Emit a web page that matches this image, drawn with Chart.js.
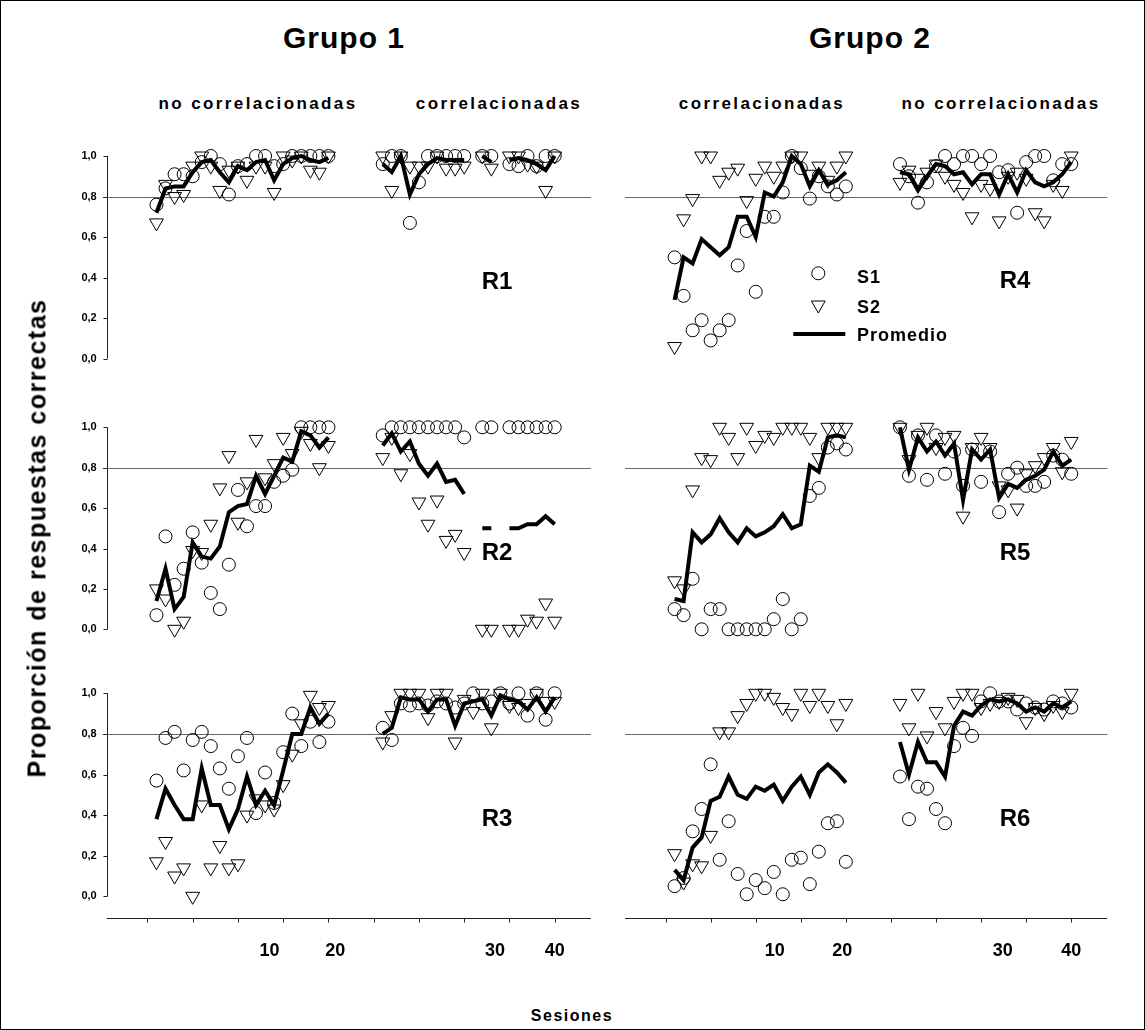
<!DOCTYPE html>
<html>
<head>
<meta charset="utf-8">
<script src="https://cdn.jsdelivr.net/npm/chart.js@4.4.1/dist/chart.umd.min.js"></script>
<style>
    html, body { margin: 0; padding: 0; background: #fff; }
    #fig { position: relative; width: 1145px; height: 1030px; overflow: hidden;
           font-family: "Liberation Sans", Arial, sans-serif; font-weight: bold; color: #000; }
    #frame { position: absolute; left: 0; top: 0; width: 1145px; height: 1030px;
             box-sizing: border-box; border: 1px solid #000; }
    #fig canvas { position: absolute; }
    .t { position: absolute; white-space: nowrap; line-height: 1; transform: translate(-50%, -50%); }
    .grp { font-size: 30px; letter-spacing: 1px; }
    .sub { font-size: 17px; letter-spacing: 2.4px; }
    .rl { font-size: 24px; }
    .lg { font-size: 18px; letter-spacing: 1px; transform: translate(0, -50%); }
    .ytitle { font-size: 25px; letter-spacing: 1.5px; transform: translate(-50%, -50%) rotate(-90deg); }
    .xtitle { font-size: 16px; letter-spacing: 1.5px; }
</style>
</head>
<body>
<div id="fig">
    <div id="frame"></div>

    <canvas id="r1" width="570" height="250" style="left:40px;top:130px"></canvas>
    <canvas id="r2" width="570" height="250" style="left:40px;top:400px"></canvas>
    <canvas id="r3" width="570" height="300" style="left:40px;top:665px"></canvas>
    <canvas id="r4" width="520" height="250" style="left:612px;top:130px"></canvas>
    <canvas id="r5" width="520" height="250" style="left:612px;top:400px"></canvas>
    <canvas id="r6" width="520" height="300" style="left:612px;top:665px"></canvas>

    <div class="t grp" style="left:344px;top:38px">Grupo 1</div>
    <div class="t grp" style="left:870px;top:38px">Grupo 2</div>
    <div class="t sub" style="left:258px;top:103px">no correlacionadas</div>
    <div class="t sub" style="left:499px;top:103px">correlacionadas</div>
    <div class="t sub" style="left:762px;top:103px">correlacionadas</div>
    <div class="t sub" style="left:1001px;top:103px">no correlacionadas</div>

    <div class="t rl" style="left:497px;top:281px">R1</div>
    <div class="t rl" style="left:497px;top:552px">R2</div>
    <div class="t rl" style="left:497px;top:818px">R3</div>
    <div class="t rl" style="left:1015px;top:280px">R4</div>
    <div class="t rl" style="left:1015px;top:552px">R5</div>
    <div class="t rl" style="left:1015px;top:818px">R6</div>

    <div class="t lg" style="left:857px;top:277px">S1</div>
    <div class="t lg" style="left:857px;top:307px">S2</div>
    <div class="t lg" style="left:857px;top:335px">Promedio</div>

    <div class="t ytitle" style="left:37px;top:538px">Proporción de respuestas correctas</div>
    <div class="t xtitle" style="left:572px;top:1016px">Sesiones</div>
</div>

<script>
(function () {
    "use strict";

    // sessions 1-20 = first phase, 21-40 = second phase
    const SESSIONS = [1, 2, 3, 4, 5, 6, 7, 8, 9, 10, 11, 12, 13, 14, 15, 16, 17, 18, 19, 20,
        21, 22, 23, 24, 25, 26, 27, 28, 29, 30, 31, 32, 33, 34, 35, 36, 37, 38, 39, 40];
    const Y_TICKS = [0, 0.2, 0.4, 0.6, 0.8, 1.0];
    const X_TICKS = [0, 5, 10, 15, 20, 25, 30, 35, 40, 45];
    const X_LABELS = ["10", "20", "30", "40"];
    const CRITERION = 0.8;

    // Grupo 1
    const R1_S1 = [0.76, 0.84, 0.91, 0.91, 0.90, 0.97, 1.00, 0.96, 0.81, 0.95, 0.96, 1.00, 1.00, 0.95, 0.96, 1.00, 1.00, 1.00, 1.00, 1.00,
        0.96, 1.00, 1.00, 0.67, 0.87, 1.00, 1.00, 1.00, 1.00, 1.00, null, 1.00, 1.00, null, 0.96, 0.95, 1.00, 0.95, 1.00, 1.00];
    const R1_S2 = [0.67, 0.86, 0.80, 0.81, 0.95, 1.00, 0.95, 0.83, 0.93, 0.95, 0.88, 0.95, 0.95, 0.82, 1.00, 0.98, 1.00, 0.93, 0.92, 1.00,
        1.00, 0.83, 1.00, 0.95, 0.95, 0.95, 1.00, 0.94, 0.94, 0.95, null, 1.00, 0.94, null, 1.00, 1.00, 0.96, 0.95, 0.83, 1.00];
    const R1_PROM = [0.72, 0.84, 0.85, 0.85, 0.92, 0.97, 0.98, 0.92, 0.87, 0.95, 0.93, 0.97, 0.98, 0.88, 0.96, 0.99, 1.00, 0.98, 0.97, 0.99,
        0.96, 0.92, 1.00, 0.81, 0.91, 0.96, 0.99, 0.98, 0.98, 0.98, null, 1.00, 0.97, null, 0.98, 0.99, 0.98, 0.96, 0.93, 1.00];

    const R2_S1 = [0.07, 0.46, 0.22, 0.30, 0.48, 0.33, 0.18, 0.10, 0.32, 0.69, 0.51, 0.61, 0.61, 0.73, 0.76, 0.79, 1.00, 1.00, 1.00, 1.00,
        0.96, 1.00, 1.00, 1.00, 1.00, 1.00, 1.00, 1.00, 1.00, 0.95, null, 1.00, 1.00, null, 1.00, 1.00, 1.00, 1.00, 1.00, 1.00];
    const R2_S2 = [0.20, 0.15, 0.00, 0.04, 0.39, 0.38, 0.52, 0.70, 0.86, 0.53, 0.73, 0.94, 0.75, 0.82, 0.95, 0.87, 0.98, 0.92, 0.80, 0.91,
        0.85, 0.95, 0.77, 0.87, 0.63, 0.52, 0.64, 0.44, 0.47, 0.38, null, 0.00, 0.00, null, 0.00, 0.00, 0.05, 0.04, 0.13, 0.04];
    const R2_PROM = [0.14, 0.30, 0.10, 0.16, 0.43, 0.36, 0.35, 0.41, 0.58, 0.61, 0.62, 0.76, 0.67, 0.76, 0.85, 0.83, 0.98, 0.96, 0.90, 0.95,
        0.91, 0.97, 0.88, 0.93, 0.82, 0.76, 0.82, 0.73, 0.74, 0.67, null, 0.50, 0.50, null, 0.50, 0.50, 0.52, 0.52, 0.56, 0.52];

    const R3_S1 = [0.57, 0.78, 0.81, 0.62, 0.77, 0.81, 0.74, 0.63, 0.53, 0.69, 0.78, 0.41, 0.61, 0.46, 0.71, 0.90, 0.74, 0.86, 0.76, 0.86,
        0.83, 0.77, 0.95, 0.94, 0.95, 0.94, 0.96, 0.95, 0.93, 0.95, 1.00, 0.95, 0.96, 1.00, 0.95, 1.00, 0.89, 1.00, 0.87, 1.00];
    const R3_S2 = [0.17, 0.27, 0.10, 0.14, 0.00, 0.45, 0.14, 0.25, 0.14, 0.16, 0.40, 0.48, 0.45, 0.43, 0.55, 0.70, 0.85, 0.99, 0.93, 0.94,
        0.76, 0.89, 1.00, 1.00, 1.00, 0.88, 1.00, 1.00, 0.76, 0.97, 0.91, 1.00, 0.83, 1.00, 0.94, 0.93, 0.95, 1.00, 0.96, 0.96];
    const R3_PROM = [0.38, 0.53, 0.45, 0.38, 0.38, 0.63, 0.45, 0.45, 0.33, 0.43, 0.59, 0.45, 0.52, 0.45, 0.62, 0.80, 0.80, 0.93, 0.85, 0.90,
        0.80, 0.83, 0.98, 0.97, 0.97, 0.91, 0.97, 0.97, 0.84, 0.95, 0.96, 0.97, 0.89, 0.99, 0.97, 0.96, 0.92, 0.98, 0.91, 0.98];

    // Grupo 2
    const R4_S1 = [0.50, 0.31, 0.14, 0.19, 0.09, 0.14, 0.19, 0.46, 0.63, 0.33, 0.70, 0.70, 0.82, 1.00, 0.94, 0.79, 0.90, 0.85, 0.81, 0.85,
        0.96, 0.90, 0.77, 0.87, 0.95, 1.00, 0.96, 1.00, 1.00, 0.96, 1.00, 0.92, 0.93, 0.72, 0.97, 1.00, 1.00, 0.88, 0.96, 0.96];
    const R4_S2 = [0.06, 0.69, 0.79, 1.00, 1.00, 0.88, 0.92, 0.94, 0.78, 0.89, 0.95, 0.90, 0.95, 1.00, 1.00, 0.91, 0.95, 0.88, 0.95, 1.00,
        0.87, 0.93, 0.89, 0.92, 0.96, 0.90, 0.86, 0.82, 0.70, 0.86, 0.84, 0.68, 0.90, 0.92, 0.89, 0.72, 0.68, 0.86, 0.83, 1.00];
    const R4_PROM = [0.29, 0.50, 0.47, 0.59, 0.55, 0.51, 0.55, 0.70, 0.70, 0.60, 0.82, 0.80, 0.87, 1.00, 0.96, 0.85, 0.93, 0.86, 0.88, 0.92,
        0.92, 0.91, 0.83, 0.90, 0.96, 0.95, 0.91, 0.92, 0.86, 0.91, 0.91, 0.81, 0.91, 0.82, 0.93, 0.87, 0.85, 0.87, 0.91, 0.97];

    const R5_S1 = [0.10, 0.07, 0.25, 0.00, 0.10, 0.10, 0.00, 0.00, 0.00, 0.00, 0.00, 0.05, 0.15, 0.00, 0.05, 0.66, 0.70, 0.90, 0.92, 0.89,
        1.00, 0.76, 0.96, 0.74, 0.96, 0.77, 0.88, 0.71, 0.89, 0.73, 0.88, 0.58, 0.77, 0.80, 0.71, 0.71, 0.73, 0.86, 0.84, 0.77];
    const R5_S2 = [0.24, 0.20, 0.69, 0.85, 0.84, 1.00, 0.95, 0.85, 1.00, 0.91, 0.96, 0.95, 1.00, 1.00, 1.00, 0.95, 0.85, 1.00, 1.00, 1.00,
        1.00, 0.84, 0.96, 1.00, 0.90, 0.95, 0.96, 0.56, 0.90, 0.95, 0.90, 0.71, 0.69, 0.60, 0.77, 0.81, 0.85, 0.90, 0.78, 0.93];
    const R5_PROM = [0.15, 0.14, 0.48, 0.43, 0.47, 0.55, 0.48, 0.43, 0.50, 0.46, 0.48, 0.51, 0.57, 0.50, 0.52, 0.81, 0.78, 0.95, 0.96, 0.95,
        1.00, 0.79, 0.95, 0.88, 0.93, 0.86, 0.92, 0.64, 0.89, 0.84, 0.89, 0.65, 0.72, 0.70, 0.74, 0.76, 0.79, 0.88, 0.81, 0.84];

    const R6_S1 = [0.05, 0.09, 0.32, 0.43, 0.65, 0.18, 0.37, 0.11, 0.01, 0.08, 0.04, 0.12, 0.01, 0.18, 0.19, 0.06, 0.22, 0.36, 0.37, 0.17,
        0.59, 0.38, 0.54, 0.53, 0.43, 0.36, 0.74, 0.83, 0.79, 0.96, 1.00, 0.96, 0.96, 0.92, 0.95, 0.93, 0.92, 0.96, 0.95, 0.93];
    const R6_S2 = [0.21, 0.07, 0.16, 0.15, 0.30, 0.81, 0.81, 0.89, 0.95, 1.00, 1.00, 0.98, 0.93, 0.90, 1.00, 0.94, 1.00, 0.94, 0.85, 0.95,
        0.95, 0.83, 1.00, 0.79, 0.91, 0.83, 0.96, 1.00, 1.00, 0.93, 0.95, 0.96, 0.98, 0.97, 0.86, 0.93, 0.90, 0.94, 0.91, 1.00];
    const R6_PROM = [0.13, 0.08, 0.24, 0.29, 0.47, 0.49, 0.59, 0.50, 0.48, 0.54, 0.52, 0.55, 0.47, 0.54, 0.59, 0.50, 0.61, 0.65, 0.61, 0.56,
        0.76, 0.60, 0.76, 0.66, 0.66, 0.59, 0.84, 0.91, 0.89, 0.94, 0.97, 0.96, 0.97, 0.95, 0.91, 0.93, 0.91, 0.95, 0.93, 0.96];

    // the second phase is drawn after an empty stretch of 5 sessions
    const PHASE_END = 20;
    const PHASE_GAP = 5;
    const FONT = '"Liberation Sans", Arial, sans-serif';

    function toPoints(values) {
        const pts = [];
        SESSIONS.forEach(function (s, i) {
            if (s === PHASE_END + 1) pts.push({ x: PHASE_END + PHASE_GAP / 2, y: null });
            pts.push({ x: s <= PHASE_END ? s : s + PHASE_GAP, y: values[i] });
        });
        return pts;
    }

    function downTriangle(ctx, x, y, r) {
        const h = r * Math.sin(Math.PI / 3);
        ctx.beginPath();
        ctx.moveTo(x, y + r);
        ctx.lineTo(x - h, y - r / 2);
        ctx.lineTo(x + h, y - r / 2);
        ctx.closePath();
        ctx.stroke();
    }

    const panelAxes = {
        id: "panelAxes",
        beforeDatasetsDraw(chart, args, opts) {
            const ctx = chart.ctx;
            const a = chart.chartArea;
            const x = chart.scales.x;
            const y = chart.scales.y;
            ctx.save();
            ctx.lineWidth = 1;

            // 0,8 criterion line
            const yc = Math.round(y.getPixelForValue(CRITERION)) + 0.5;
            ctx.strokeStyle = "#666";
            ctx.beginPath();
            ctx.moveTo(a.left - (opts.yAxis ? 4 : 0), yc);
            ctx.lineTo(a.right, yc);
            ctx.stroke();

            ctx.strokeStyle = "#222";
            ctx.fillStyle = "#000";
            if (opts.yAxis) {
                const xl = Math.round(a.left) + 0.5;
                ctx.beginPath();
                ctx.moveTo(xl, y.getPixelForValue(1));
                ctx.lineTo(xl, y.getPixelForValue(0));
                Y_TICKS.forEach(function (v) {
                    const py = Math.round(y.getPixelForValue(v)) + 0.5;
                    ctx.moveTo(xl - 4, py);
                    ctx.lineTo(xl, py);
                });
                ctx.stroke();
                ctx.font = "bold 11px " + FONT;
                ctx.textAlign = "right";
                ctx.textBaseline = "middle";
                Y_TICKS.forEach(function (v) {
                    ctx.fillText(v.toFixed(1).replace(".", ","), a.left - 10, y.getPixelForValue(v));
                });
            }
            if (opts.xAxis) {
                const yb = Math.round(y.getPixelForValue(opts.xAxisAt)) + 0.5;
                ctx.beginPath();
                ctx.moveTo(a.left, yb);
                ctx.lineTo(a.right, yb);
                X_TICKS.forEach(function (v) {
                    const px = Math.round(x.getPixelForValue(v)) + 0.5;
                    ctx.moveTo(px, yb);
                    ctx.lineTo(px, yb + 4);
                });
                ctx.stroke();
                ctx.font = "bold 18px " + FONT;
                ctx.textAlign = "center";
                ctx.textBaseline = "middle";
                X_LABELS.forEach(function (lab, i) {
                    ctx.fillText(lab, x.getPixelForValue(opts.labelAt[i]), yb + 33);
                });
            }
            ctx.restore();
        },
        afterDatasetsDraw(chart, args, opts) {
            if (!opts.legend) return;
            const ctx = chart.ctx;
            const L = opts.legend;
            ctx.save();
            ctx.strokeStyle = "#000";
            ctx.lineWidth = 1;
            ctx.beginPath();
            ctx.arc(L.x, L.y1, 6.5, 0, 2 * Math.PI);
            ctx.stroke();
            downTriangle(ctx, L.x, L.y2, 8);
            ctx.lineWidth = 4;
            ctx.beginPath();
            ctx.moveTo(L.x - 25, L.y3);
            ctx.lineTo(L.x + 27, L.y3);
            ctx.stroke();
            ctx.restore();
        }
    };

    function makePanel(id, s1, s2, prom, axes, pad) {
        const canvas = document.getElementById(id);
        new Chart(canvas.getContext("2d"), {
            type: "scatter",
            data: {
                datasets: [
                    {
                        type: "line",
                        label: "Promedio",
                        data: toPoints(prom),
                        borderColor: "#000",
                        borderWidth: 4,
                        borderJoinStyle: "miter",
                        pointRadius: 0,
                        tension: 0,
                        spanGaps: false,
                        clip: false,
                        order: 0,
                    },
                    {
                        label: "S2",
                        data: toPoints(s2),
                        pointStyle: "triangle",
                        rotation: 180,
                        pointRadius: 8,
                        borderColor: "#000",
                        backgroundColor: "rgba(0,0,0,0)",
                        borderWidth: 1,
                        clip: false,
                        order: 1,
                    },
                    {
                        label: "S1",
                        data: toPoints(s1),
                        pointStyle: "circle",
                        pointRadius: 6.5,
                        borderColor: "#000",
                        backgroundColor: "rgba(0,0,0,0)",
                        borderWidth: 1,
                        clip: false,
                        order: 2,
                    },
                ],
            },
            options: {
                responsive: false,
                animation: false,
                events: [],
                layout: { padding: pad },
                plugins: {
                    legend: { display: false },
                    tooltip: { enabled: false },
                    panelAxes: axes,
                },
                scales: {
                    x: { type: "linear", min: -4.5, max: 49, display: false },
                    y: { type: "linear", min: 0, max: 1, display: false },
                },
            },
            plugins: [panelAxes],
        });
    }

    const LEFT_LABELS = [13.5, 20.75, 38.4, 45];
    const RIGHT_LABELS = [12.1, 19.6, 37.4, 45];
    const padL = function (t, b) { return { left: 66.7, right: 19.1, top: t, bottom: b }; };
    const padR = function (t, b) { return { left: 13, right: 24.7, top: t, bottom: b }; };

    document.addEventListener("DOMContentLoaded", function () {
        makePanel("r1", R1_S1, R1_S2, R1_PROM, { yAxis: true }, padL(26, 21.3));
        makePanel("r2", R2_S1, R2_S2, R2_PROM, { yAxis: true }, padL(27.3, 20.7));
        makePanel("r3", R3_S1, R3_S2, R3_PROM, { yAxis: true, xAxis: true, xAxisAt: -0.108, labelAt: LEFT_LABELS }, padL(28.3, 68.7));
        makePanel("r4", R4_S1, R4_S2, R4_PROM, { legend: { x: 206.3, y1: 143.3, y2: 175, y3: 204 } }, padR(26, 21.3));
        makePanel("r5", R5_S1, R5_S2, R5_PROM, {}, padR(27.3, 20.7));
        makePanel("r6", R6_S1, R6_S2, R6_PROM, { xAxis: true, xAxisAt: -0.108, labelAt: RIGHT_LABELS }, padR(28.3, 68.7));
    });
})();
</script>
</body>
</html>
